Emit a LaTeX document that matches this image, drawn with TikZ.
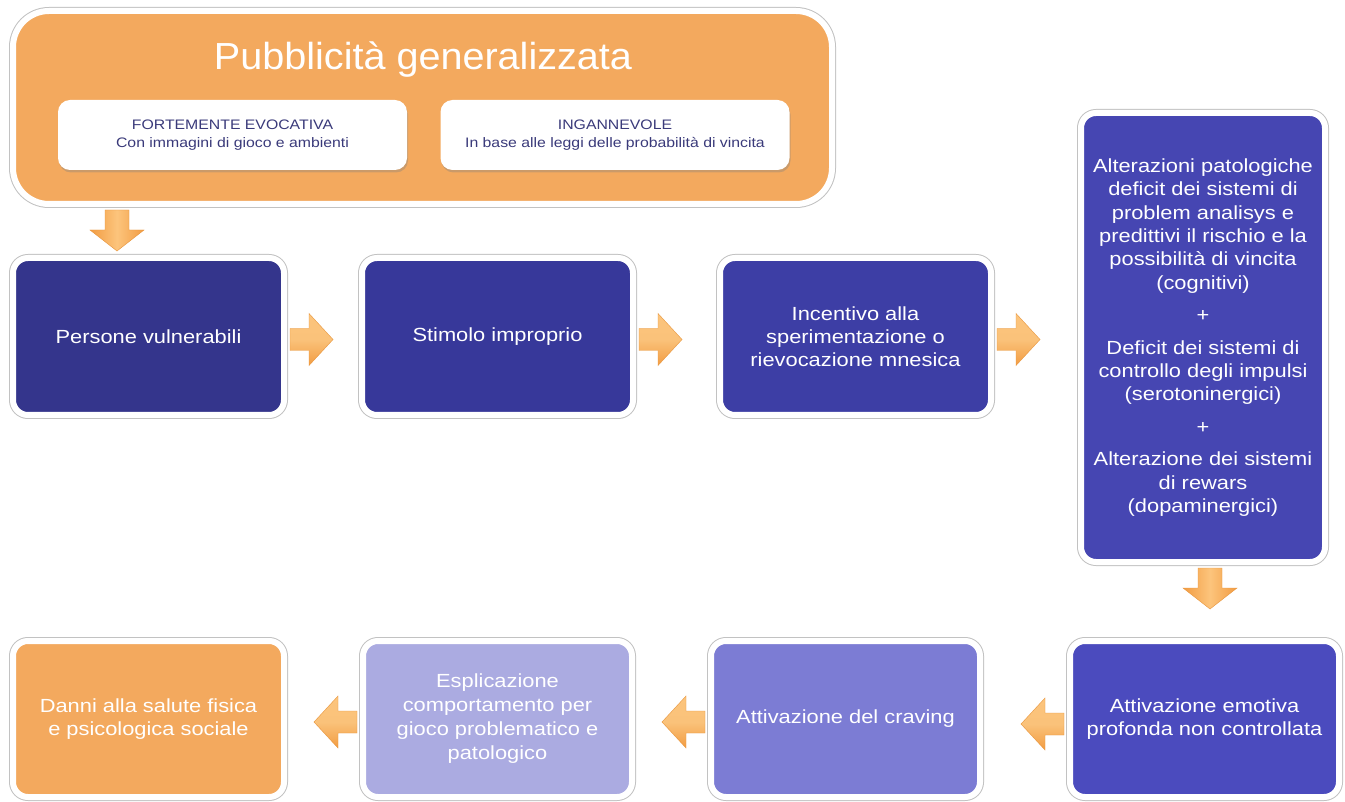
\documentclass[tikz,border=0pt]{standalone}
\usepackage{fontspec}
\setmainfont{Liberation Sans}[FakeStretch=1.15]
\newfontfamily\titlefont{Liberation Sans}[FakeStretch=1.05]
\usetikzlibrary{shadows,calc}
\definecolor{orA}{HTML}{F3A95E}
\definecolor{cA}{HTML}{34358C}
\definecolor{cB}{HTML}{37389A}
\definecolor{cC}{HTML}{3D3EA5}
\definecolor{cD}{HTML}{4646B2}
\definecolor{cE}{HTML}{4B4BBE}
\definecolor{cF}{HTML}{7C7CD4}
\definecolor{cG}{HTML}{ABABE1}
\definecolor{innertext}{HTML}{3A3A7A}
\definecolor{arrT}{HTML}{FCC47C}
\definecolor{arrE}{HTML}{F29C42}
\definecolor{arrM}{HTML}{FAC27A}
\definecolor{arrD}{HTML}{E8953C}
\newcommand{\arrowR}[1]{\begin{scope}[shift={(#1)}]\shade[top color=arrT,bottom color=arrE,middle color=arrM,draw=arrD,line width=0.4pt] (0,-11) -- (19,-11) -- (19,-26) -- (43,0) -- (19,26) -- (19,11) -- (0,11) -- cycle;\end{scope}}
\newcommand{\arrowL}[1]{\begin{scope}[shift={(#1)}]\shade[top color=arrT,bottom color=arrE,middle color=arrM,draw=arrD,line width=0.4pt] (0,-11) -- (-19,-11) -- (-19,-26) -- (-43,0) -- (-19,26) -- (-19,11) -- (0,11) -- cycle;\end{scope}}
\newcommand{\arrowD}[1]{\begin{scope}[shift={(#1)}]\shade[left color=arrE,right color=arrE,middle color=arrT,draw=arrD,line width=0.4pt] (-12,0) -- (-12,20) -- (-27,20) -- (0,41) -- (27,20) -- (12,20) -- (12,0) -- cycle;\end{scope}}
\tikzset{
  flowbox/.style={rectangle, rounded corners=15pt, draw=white, line width=6pt,
    preaction={draw=black!24, line width=8pt},
    text=white, align=center, inner sep=0pt,
    font=\fontsize{19}{23}\selectfont},
  innerbox/.style={rectangle, rounded corners=12pt, fill=white, inner sep=0pt,
    minimum width=349pt, minimum height=70pt, align=center, text=innertext,
    font=\fontsize{13.75}{18}\selectfont,
    drop shadow={opacity=0.35, shadow xshift=1pt, shadow yshift=-2.5pt}},
}
\begin{document}
\begin{tikzpicture}[x=1pt,y=-1pt]
\useasboundingbox (0,0) rectangle (1345,802);
\fill[white] (0,0) rectangle (1345,802);
% top box
\node[flowbox, fill=orA, rounded corners=36pt, minimum width=819pt, minimum height=193pt] (top) at (422.5,107.5) {};
\node[anchor=base, text=white, font=\titlefont\fontsize{37.7}{40}\selectfont] (title) at (423,70) {Pubblicità generalizzata};
\node[innerbox] (ev) at (232.5,135) {FORTEMENTE EVOCATIVA\\Con immagini di gioco e ambienti};
\node[innerbox] (ing) at (615,135) {INGANNEVOLE\\In base alle leggi delle probabilità di vincita};
% row 1
\node[flowbox, fill=cA, minimum width=271pt, minimum height=157pt] (b1) at (148.5,336.5) {Persone vulnerabili};
\node[flowbox, fill=cB, minimum width=271pt, minimum height=157pt] (b2) at (497.5,336.5) {Stimolo improprio};
\node[flowbox, fill=cC, minimum width=271pt, minimum height=157pt] (b3) at (855.5,336.5) {Incentivo alla\\sperimentazione o\\rievocazione mnesica};
\node[flowbox, fill=cD, minimum width=244pt, minimum height=449pt, font=\fontsize{19}{23.4}\selectfont] (alt) at (1203,337.5) {Alterazioni patologiche\\deficit dei sistemi di\\problem analisys e\\predittivi il rischio e la\\possibilità di vincita\\(cognitivi)\\[9pt]+\\[9pt]Deficit dei sistemi di\\controllo degli impulsi\\(serotoninergici)\\[9pt]+\\[9pt]Alterazione dei sistemi\\di rewars\\(dopaminergici)};
% row 2
\node[flowbox, fill=cE, minimum width=269pt, minimum height=156pt] (emo) at (1204.5,719) {Attivazione emotiva\\profonda non controllata};
\node[flowbox, fill=cF, minimum width=269pt, minimum height=156pt] (crav) at (845.5,719) {Attivazione del craving};
\node[flowbox, fill=cG, minimum width=269pt, minimum height=156pt, font=\fontsize{19}{24}\selectfont] (expl) at (497.5,719) {Esplicazione\\comportamento per\\gioco problematico e\\patologico};
\node[flowbox, fill=orA, minimum width=271pt, minimum height=156pt] (danni) at (148.5,719) {Danni alla salute fisica\\e psicologica sociale};
% arrows
\arrowD{$(top.south west)+(107,3)$}
\arrowR{$(b1.east)+(3,3)$}
\arrowR{$(b2.east)+(3,3)$}
\arrowR{$(b3.east)+(3,3)$}
\arrowD{$(alt.south)+(7,3)$}
\arrowL{$(emo.west)+(-3,5)$}
\arrowL{$(crav.west)+(-3,3)$}
\arrowL{$(expl.west)+(-3,3)$}
\end{tikzpicture}
\end{document}
